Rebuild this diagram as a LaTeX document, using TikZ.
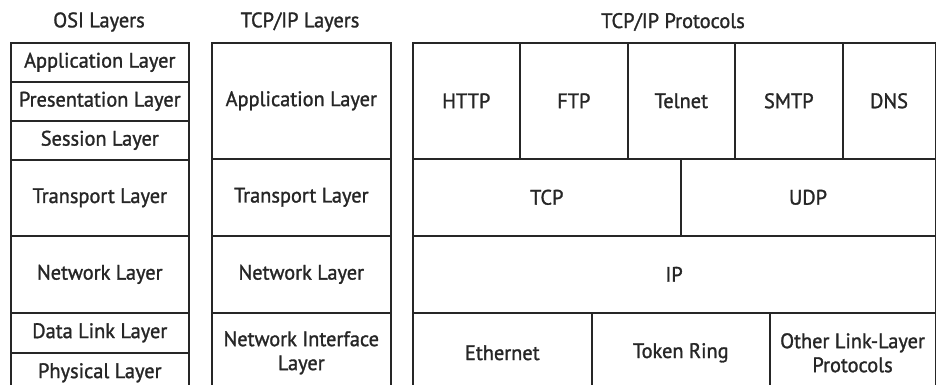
\documentclass[tikz,border=0pt]{standalone}
\usepackage{fontspec}
\setmainfont{PT Sans}[FakeStretch=0.97,FakeBold=1.3]
\begin{document}
\begin{tikzpicture}[x=1pt,y=-1pt,
    cell/.style={draw=black!85,line width=1.6pt,rectangle,anchor=north west,
                 inner sep=0pt,align=center,text=black!85,
                 font=\fontsize{21}{24}\selectfont},
    header/.style={text=black!85,font=\fontsize{21}{24}\selectfont}]

  \useasboundingbox (0,0) rectangle (936,385);

  % Column headers
  \node[header] (osi head) at (99,22) {OSI Layers};
  \node[header] (tcp head) at (300,22) {TCP/IP Layers};
  \node[header] (prot head) at (673,22) {TCP/IP Protocols};

  % OSI layers
  \node[cell,minimum width=178,minimum height=39] (osi app) at (10,42) {Application Layer};
  \node[cell,minimum width=178,minimum height=39] (osi pres) at (10,81) {Presentation Layer};
  \node[cell,minimum width=178,minimum height=39] (osi sess) at (10,120) {Session Layer};
  \node[cell,minimum width=178,minimum height=76] (osi trans) at (10,159) {Transport Layer};
  \node[cell,minimum width=178,minimum height=77] (osi net) at (10,235) {Network Layer};
  \node[cell,minimum width=178,minimum height=40] (osi link) at (10,312) {Data Link Layer};
  \node[cell,minimum width=178,minimum height=40] (osi phys) at (10,352) {Physical Layer};

  % TCP/IP layers
  \node[cell,minimum width=179,minimum height=116] (tcp app) at (211,42) {Application Layer};
  \node[cell,minimum width=179,minimum height=77] (tcp trans) at (211,158) {Transport Layer};
  \node[cell,minimum width=179,minimum height=77] (tcp net) at (211,235) {Network Layer};
  \node[cell,minimum width=179,minimum height=80] (tcp link) at (211,312) {Network Interface\\Layer};

  % TCP/IP protocols
  \node[cell,minimum width=107,minimum height=116] (http) at (412,42) {HTTP};
  \node[cell,minimum width=108,minimum height=116] (ftp) at (519,42) {FTP};
  \node[cell,minimum width=107,minimum height=116] (telnet) at (627,42) {Telnet};
  \node[cell,minimum width=108,minimum height=116] (smtp) at (734,42) {SMTP};
  \node[cell,minimum width=92.5,minimum height=116] (dns) at (842,42) {DNS};
  \node[cell,minimum width=268,minimum height=77] (tcp) at (412,158) {TCP};
  \node[cell,minimum width=254.5,minimum height=77] (udp) at (680,158) {UDP};
  \node[cell,minimum width=522.5,minimum height=77] (ip) at (412,235) {IP};
  \node[cell,minimum width=179,minimum height=80] (ethernet) at (412,312) {Ethernet};
  \node[cell,minimum width=178,minimum height=80] (token ring) at (591,312) {Token Ring};
  \node[cell,minimum width=165.5,minimum height=80] (other link) at (769,312) {Other Link-Layer\\Protocols};

\end{tikzpicture}
\end{document}
